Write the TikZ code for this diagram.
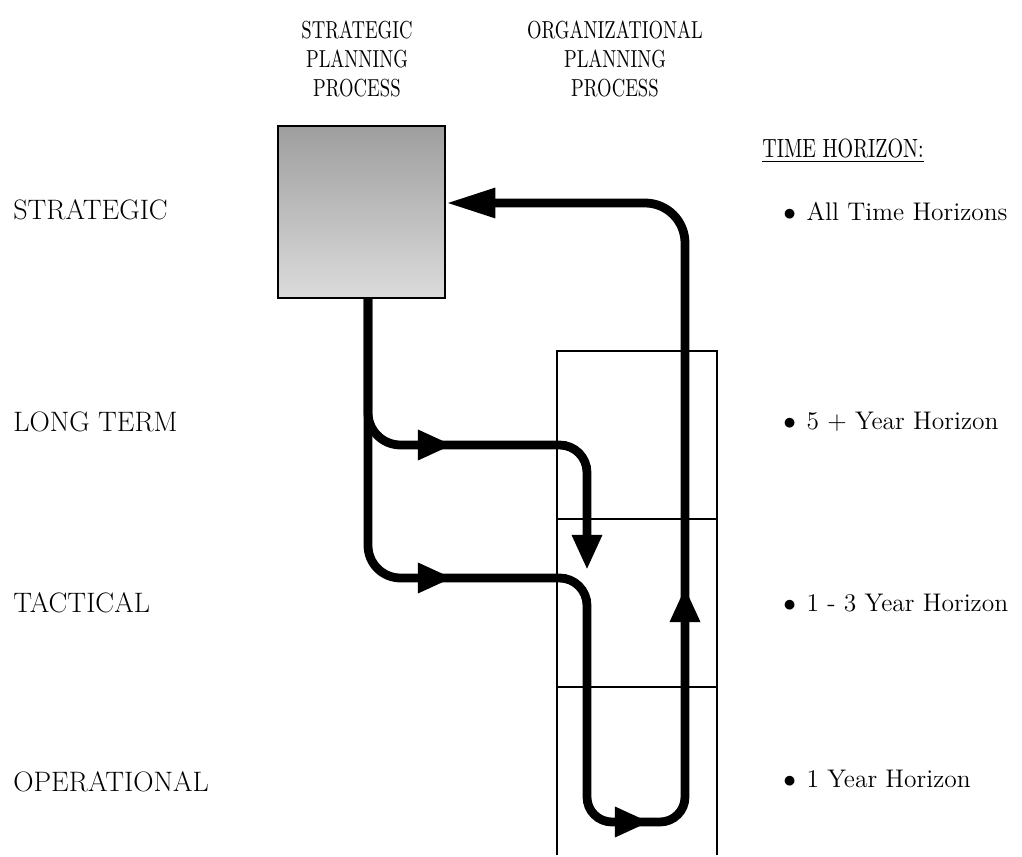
\documentclass[tikz,border=0pt]{standalone}
\usepackage{fontspec}
\usetikzlibrary{arrows.meta, positioning, calc}
\newfontfamily\headfont{lmroman10-regular.otf}[FakeStretch=0.76]

\begin{document}
\begin{tikzpicture}[
  x=0.02cm, y=-0.02cm,
  lbl/.style={font=\fontsize{16}{19}\selectfont, inner sep=0, anchor=base west},
  hz/.style={font=\fontsize{14.5}{17}\selectfont, inner sep=0, anchor=base west},
  hdr/.style={font=\headfont\fontsize{14}{16.5}\selectfont, align=center, inner sep=0, anchor=north},
  cellbox/.style={minimum width=3.2cm, minimum height=3.36cm, inner sep=0, outer sep=0},
  flow/.style={line width=5pt, rounded corners=0.65cm},
  tip/.style={-{Triangle[length=20pt, width=16pt]}},
  longtip/.style={-{Triangle[length=28pt, width=16pt]}}
]
  \useasboundingbox (0,0) rectangle (1022,857);

  % column headers
  \node[hdr] (sphead) at (357,21) {STRATEGIC\\PLANNING\\PROCESS};
  \node[hdr] (ophead) at (615,21) {ORGANIZATIONAL\\PLANNING\\PROCESS};

  % planning levels
  \node[lbl] (lstrat) at (13,220) {STRATEGIC};
  \node[lbl] (llong) at (13,432) {LONG TERM};
  \node[lbl] (ltact) at (13,613) {TACTICAL};
  \node[lbl] (loper) at (13,792) {OPERATIONAL};

  % time horizons
  \node[font=\headfont\fontsize{15}{17}\selectfont, inner sep=0, anchor=base west] (thead) at (762,158) {\underline{TIME HORIZON:}};
  \node[hz] (hall) at (783,221) {$\bullet$\hspace{6pt}All Time Horizons};
  \node[hz] (hfive) at (783,430) {$\bullet$\hspace{6pt}5 + Year Horizon};
  \node[hz] (hthree) at (783,612) {$\bullet$\hspace{6pt}1 - 3 Year Horizon};
  \node[hz] (hone) at (783,788) {$\bullet$\hspace{6pt}1 Year Horizon};

  % strategic planning box
  \node[draw, line width=1.4pt, top color=black!38, bottom color=black!14,
        minimum width=3.34cm, minimum height=3.44cm, inner sep=0] (sp) at (361.5,212) {};

  % organizational planning column
  \node[cellbox, draw, line width=1pt] (c1) at (637,435) {};
  \node[cellbox, draw, line width=1pt, below=0pt of c1] (c2) {};
  \node[cellbox, below=0pt of c2] (c3) {};
  \draw[line width=1pt] (c3.north west) -- (c3.south west);
  \draw[line width=1pt] (c3.north east) -- (c3.south east);

  % path points
  \coordinate (trunk) at (368,300);
  \coordinate (ltbend) at (368,445);
  \coordinate (ltarr) at (453,445);
  \coordinate (ltturn) at (587,445);
  \coordinate (ltdown) at (587,570);
  \coordinate (tcbend) at (368,578);
  \coordinate (tcarr) at (453,578);
  \coordinate (tcturn) at (587,578);
  \coordinate (opbend) at (587,822);
  \coordinate (oparr) at (650,822);
  \coordinate (opturn) at (685,822);
  \coordinate (uparr) at (685,587);
  \coordinate (topturn) at (685,203);

  % flows
  \draw[flow, longtip] (sp.south -| trunk) -- (tcbend) [rounded corners=0.55cm] -- (tcturn)
    [rounded corners=0.5cm] -- (opbend) -- (opturn) [rounded corners=0.8cm] -- (topturn) -- (sp.east |- topturn);
  \draw[flow, tip] (sp.south -| trunk) -- (ltbend) [rounded corners=0.55cm] -- (ltturn) -- (ltdown);

  % arrowheads along the flows
  \draw[line width=5pt, tip] ($(ltarr)+(-30,0)$) -- (ltarr);
  \draw[line width=5pt, tip] ($(tcarr)+(-30,0)$) -- (tcarr);
  \draw[line width=5pt, tip] ($(oparr)+(-30,0)$) -- (oparr);
  \draw[line width=5pt, tip] ($(uparr)+(0,30)$) -- (uparr);
\end{tikzpicture}
\end{document}
